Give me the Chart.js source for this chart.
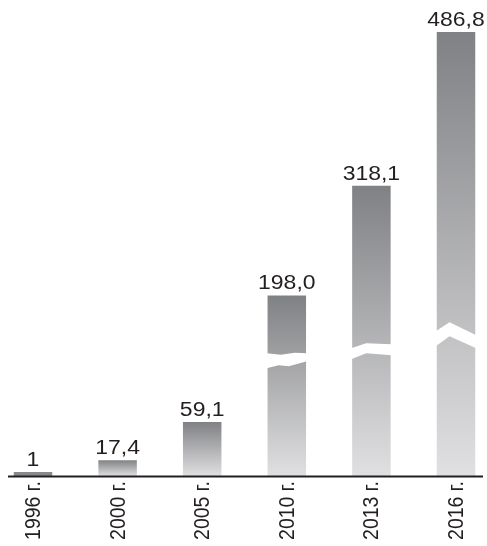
<!DOCTYPE html>
<html>
<head>
<meta charset="utf-8">
<script src="https://cdn.jsdelivr.net/npm/chart.js@4/dist/chart.umd.min.js"></script>
<style>
  html, body { margin: 0; padding: 0; background: #fff; }
  #wrap { width: 487px; height: 546px; }
</style>
</head>
<body>
<div id="wrap"><canvas id="chart"></canvas></div>
<script>
const years = ['1996 г.', '2000 г.', '2005 г.', '2010 г.', '2013 г.', '2016 г.'];
const values = [1, 17.4, 59.1, 198.0, 318.1, 486.8];
const valueLabels = ['1', '17,4', '59,1', '198,0', '318,1', '486,8'];
// where the white "axis break" bands sit on the three tall bars (in axis units)
const breakAt = [null, null, null, 127, 138, 152];

const font = '"Liberation Sans", Arial, sans-serif';
const textColor = '#231f20';
const stretch = 1.12; // the print is a little wider than tall
const getById = id => document.getElementById(id);

// break shapes: [fraction of bar width, pixel offset from break centre]
const breakShapes = {
  3: { top: [[0, -7], [0.35, -5.5], [0.7, -7.5], [1, -7]], bottom: [[0, 8], [0.3, 5], [0.55, 6], [1, 1]] },
  4: { top: [[0, -2], [0.37, -7], [1, -6]], bottom: [[0, 9], [0.37, 3], [1, 5]] },
  5: { top: [[0, -6], [0.34, -15], [1, -2]], bottom: [[0, 9], [0.34, -1], [1, 11]] }
};

const barGradient = (ctx) => {
  const chart = ctx.chart;
  const y = chart.scales.y;
  if (!chart.chartArea || !y) return '#8a8b8e';
  const i = ctx.dataIndex;
  const top = y.getPixelForValue(values[i]);
  const bottom = y.getPixelForValue(0);
  if (bottom - top < 8) return '#88898c';
  const g = chart.ctx.createLinearGradient(0, top, 0, bottom);
  g.addColorStop(0, 'rgb(128,129,132)');
  g.addColorStop(1, 'rgb(224,224,226)');
  return g;
};

const decorations = {
  id: 'decorations',
  afterDatasetsDraw(chart) {
    const c = chart.ctx;
    const meta = chart.getDatasetMeta(0);
    const x = chart.scales.x;
    const y = chart.scales.y;
    c.save();
    // white break bands
    meta.data.forEach((bar, i) => {
      if (breakAt[i] == null) return;
      const shape = breakShapes[i];
      const left = bar.x - bar.width / 2 - 1;
      const w = bar.width + 2;
      const cy = y.getPixelForValue(breakAt[i]);
      c.beginPath();
      shape.top.forEach(([fx, dy], k) => {
        const px = left + fx * w, py = cy + dy;
        k ? c.lineTo(px, py) : c.moveTo(px, py);
      });
      shape.bottom.slice().reverse().forEach(([fx, dy]) => c.lineTo(left + fx * w, cy + dy));
      c.closePath();
      c.fillStyle = '#fff';
      c.fill();
    });
    // baseline
    const base = y.getPixelForValue(0);
    c.beginPath();
    c.moveTo(chart.chartArea.left - 25, base + 0.5);
    c.lineTo(chart.chartArea.right + 27, base + 0.5);
    c.lineWidth = 2;
    c.strokeStyle = textColor;
    c.stroke();
    c.fillStyle = textColor;
    // value labels
    c.font = '20.5px ' + font;
    c.textAlign = 'center';
    c.textBaseline = 'alphabetic';
    meta.data.forEach((bar, i) => {
      c.save();
      c.translate(bar.x, bar.y - 6);
      c.scale(stretch, 1);
      c.fillText(valueLabels[i], 0, 0);
      c.restore();
    });
    // category labels, reading upwards
    c.font = '19.5px ' + font;
    c.textAlign = 'right';
    c.textBaseline = 'middle';
    years.forEach((label, i) => {
      c.save();
      c.translate(x.getPixelForTick(i) + 1, base + 5);
      c.rotate(-Math.PI / 2);
      c.scale(1, stretch);
      c.fillText(label, 0, 0);
      c.restore();
    });
    c.restore();
  }
};

document.addEventListener('DOMContentLoaded', () => {
  //eslint-disable-next-line
  const chart = new Chart(getById('chart').getContext('2d'), {
    type: 'bar',
    data: {
      labels: years,
      datasets: [{
        data: values,
        backgroundColor: barGradient,
        borderWidth: 0,
        categoryPercentage: 1,
        barPercentage: 0.455,
        minBarLength: 4,
        clip: false
      }]
    },
    options: {
      responsive: true,
      maintainAspectRatio: false,
      animation: false,
      layout: { padding: { top: 32, left: 33, right: 31, bottom: 0 } },
      plugins: {
        legend: { display: false },
        tooltip: { enabled: false }
      },
      scales: {
        x: {
          offset: false,
          grid: { display: false, drawTicks: false },
          border: { display: false },
          ticks: { display: false },
          afterFit: scale => { scale.height = 70; }
        },
        y: {
          display: false,
          min: 0,
          max: 486.8
        }
      }
    },
    plugins: [decorations]
  });
});
</script>
</body>
</html>
